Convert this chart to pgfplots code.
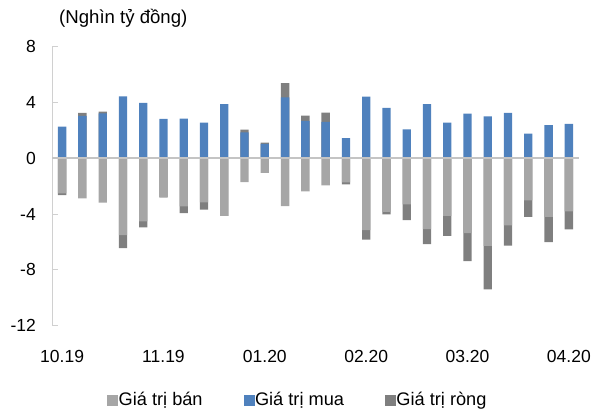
\documentclass[border=0pt]{standalone}
\usepackage{pgfplots}
\usepackage{pgfplotstable}
\pgfplotsset{compat=1.18}
\usepackage{fontspec}
\setmainfont{Liberation Sans}
\definecolor{cbuy}{HTML}{4F81BD}
\definecolor{csell}{HTML}{A6A6A6}
\definecolor{cnet}{HTML}{7F7F7F}
\definecolor{caxis}{HTML}{D0D0D0}
\definecolor{czero}{HTML}{C4C4C4}
\pgfplotsset{sq/.style={legend image code/.code={\fill[#1] (0pt,-5pt) rectangle (10pt,5pt);}}}
% net values: netend = end of the dark segment (buy+net if net>0, sell+net if net<0)
\pgfplotstableread{
x buy sell net netend
0 2.26 -2.52 -0.12 -2.64
1 3.03 -2.88 0.21 3.24
2 3.21 -3.19 0.13 3.34
3 4.43 -5.52 -0.93 -6.45
4 3.96 -4.52 -0.43 -4.95
5 2.81 -2.81 0.00 -2.81
6 2.84 -3.45 -0.48 -3.93
7 2.55 -3.16 -0.53 -3.69
8 3.88 -4.14 0.00 -4.14
9 1.84 -1.71 0.21 2.05
10 1.03 -1.05 0.09 1.12
11 4.36 -3.43 1.02 5.38
12 2.67 -2.38 0.38 3.05
13 2.60 -1.95 0.66 3.26
14 1.43 -1.74 -0.14 -1.88
15 4.41 -5.16 -0.67 -5.83
16 3.60 -3.85 -0.17 -4.02
17 2.07 -3.31 -1.12 -4.43
18 3.88 -5.09 -1.07 -6.16
19 2.55 -4.14 -1.43 -5.57
20 3.19 -5.36 -2.02 -7.38
21 3.00 -6.29 -3.11 -9.40
22 3.24 -4.81 -1.45 -6.26
23 1.76 -3.02 -1.19 -4.21
24 2.36 -4.21 -1.81 -6.02
25 2.46 -3.81 -1.29 -5.10
}\data
\begin{document}
\begin{tikzpicture}[font=\fontsize{17.5}{21}\selectfont]
\begin{axis}[
  scale only axis, width=527pt, height=279.2pt,
  xmin=-0.5, xmax=25.5, ymin=-12, ymax=8,
  ytick={-12,-8,-4,0,4,8},
  xtick={0,5,10,15,20,25},
  xticklabels={10.19,11.19,01.20,02.20,03.20,04.20},
  axis lines*=left,
  axis line style={-, draw=caxis, line width=1pt},
  x axis line style={draw=none},
  tick align=inside,
  major tick length=6pt,
  ytick style={draw=caxis, line width=1pt},
  xtick style={draw=none},
  yticklabel style={anchor=east, inner sep=0pt, xshift=-16pt},
  xticklabel style={anchor=north, inner sep=0pt, yshift=-18pt},
  /pgf/number format/assume math mode=true,
  ybar, bar width=0.41,
  clip=false,
  legend style={at={(0.4656,-0.2661)}, anchor=center, draw=none, fill=none,
    legend columns=3, /tikz/every even column/.append style={column sep=40pt},
    nodes={inner sep=1pt, font=\fontsize{18.2}{21}\selectfont}},
]
\addlegendimage{sq=csell}\addlegendentry{Giá trị bán}
\addlegendimage{sq=cbuy}\addlegendentry{Giá trị mua}
\addlegendimage{sq=cnet}\addlegendentry{Giá trị ròng}
\addplot[fill=cnet, draw=none, bar shift=0pt, forget plot] table[x=x, y=netend] {\data};
\addplot[fill=csell, draw=none, bar shift=0pt, forget plot] table[x=x, y=sell] {\data};
\addplot[fill=cbuy, draw=none, bar shift=0pt, forget plot] table[x=x, y=buy] {\data};
\draw[czero, line width=1.5pt] (axis cs:-0.5,0) -- (axis cs:25.5,0);
\end{axis}
\node[anchor=west, inner sep=0pt, font=\fontsize{18.6}{21}\selectfont] at (7pt,307.7pt) {(Nghìn tỷ đồng)};
\pgfresetboundingbox
\path[use as bounding box] (-52pt,-83.3pt) rectangle (543pt,325.7pt);
\end{tikzpicture}
\end{document}
